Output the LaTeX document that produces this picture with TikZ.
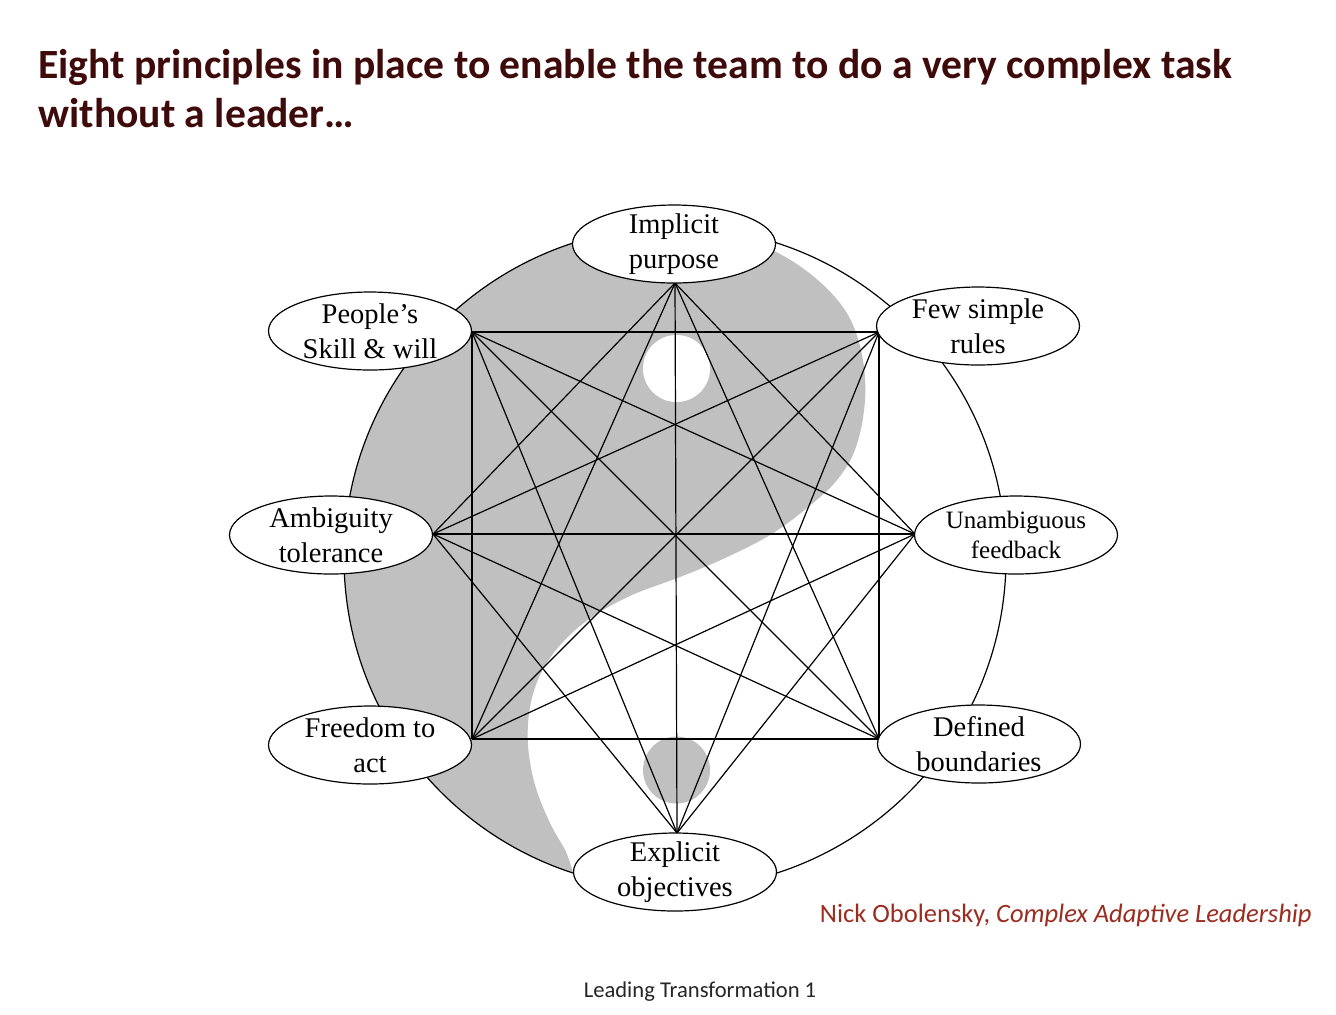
\documentclass[tikz,border=0pt]{standalone}
\usepackage{fontspec}
\setmainfont{Liberation Serif}
\newfontfamily\calibri{Carlito}
\usetikzlibrary{shapes.geometric}
\definecolor{titlecol}{RGB}{62,10,10}
\definecolor{attrcol}{RGB}{155,45,32}
\definecolor{yygray}{RGB}{192,192,192}
\begin{document}
\begin{tikzpicture}[x=0.5pt,y=-0.5pt,
  principle/.style={ellipse, draw, line width=0.6pt, fill=white, minimum width=101.5pt, minimum height=39pt, inner sep=0pt},
  ptext/.style={align=center, font=\fontsize{14.25}{17.5}\selectfont, inner sep=0pt},
  psmall/.style={align=center, font=\fontsize{12.5}{15}\selectfont, inner sep=0pt},
  link/.style={line width=0.6pt},
  titletext/.style={anchor=base west, inner sep=0pt, text=titlecol, font=\calibri\bfseries\fontsize{20.8}{25}\selectfont}]
\useasboundingbox (0,0) rectangle (1336,1014);
\fill[white] (0,0) rectangle (1336,1014);
% yin-yang
\fill[yygray] (675,227) -- plot[domain=-90:-252, samples=80, variable=\t] ({675+331*cos(\t)},{558+331*sin(\t)})
  -- plot[smooth, tension=0.6] coordinates {(573,873) (566,852) (550,823) (535,785) (528,745) (530,707) (541,673) (562,643) (592,617) (632,595) (680,577) (725,558) (770,535) (807,508) (837,480) (856,447) (865,400) (862,355) (848,315) (820,282) (780,254) (730,234) (675,227)} -- cycle;
\fill[white] (676.5,368.5) circle[radius=16.75pt];
\fill[yygray] (676.5,770) circle[radius=16.75pt];
\draw[line width=0.6pt] (675,558) circle[radius=165.5pt];
% convergence points
\coordinate (I) at (675,283);
\coordinate (F) at (879,332);
\coordinate (U) at (915,534);
\coordinate (D) at (879,739);
\coordinate (E) at (677,833);
\coordinate (Fr) at (472,739);
\coordinate (A) at (433,534);
\coordinate (S) at (472,332);
\foreach \a/\b in {I/U, I/D, I/E, I/Fr, I/A, F/D, F/E, F/Fr, F/A, F/S, U/E, U/Fr, U/A, U/S, D/Fr, D/A, D/S, E/A, E/S, Fr/S}
  \draw[link] (\a) -- (\b);
% ellipses
\node[principle] (eI) at (674,244) {};
\node[principle] (eF) at (978,326) {};
\node[principle] (eU) at (1016,535) {};
\node[principle] (eD) at (979,744) {};
\node[principle] (eE) at (675,872) {};
\node[principle] (eFr) at (370,745) {};
\node[principle] (eA) at (331,535) {};
\node[principle] (eS) at (370,331) {};
\node[ptext] (tI) at (eI.center) {Implicit\\purpose};
\node[ptext] (tF) at (eF.center) {Few simple\\rules};
\node[psmall] (tU) at (eU.center) {Unambiguous\\feedback};
\node[ptext] (tD) at (eD.center) {Defined\\boundaries};
\node[ptext] (tE) at (eE.center) {Explicit\\objectives};
\node[ptext] (tFr) at (eFr.center) {Freedom to\\act};
\node[ptext] (tA) at (eA.center) {Ambiguity\\tolerance};
\node[ptext] (tS) at (eS.center) {People’s\\Skill \& will};
% texts
\node[titletext] (title1) at (38,78) {Eight principles in place to enable the team to do a very complex task};
\node[titletext] (title2) at (38,127) {without a leader…};
\node[anchor=base east, inner sep=0pt, text=attrcol, font=\calibri\fontsize{13.25}{16}\selectfont] (attr) at (1312,922) {Nick Obolensky, \textit{Complex Adaptive Leadership}};
\node[anchor=base, inner sep=0pt, text=black!85, font=\calibri\fontsize{11.3}{13}\selectfont] (foot) at (700,997) {Leading Transformation 1};
\end{tikzpicture}
\end{document}
